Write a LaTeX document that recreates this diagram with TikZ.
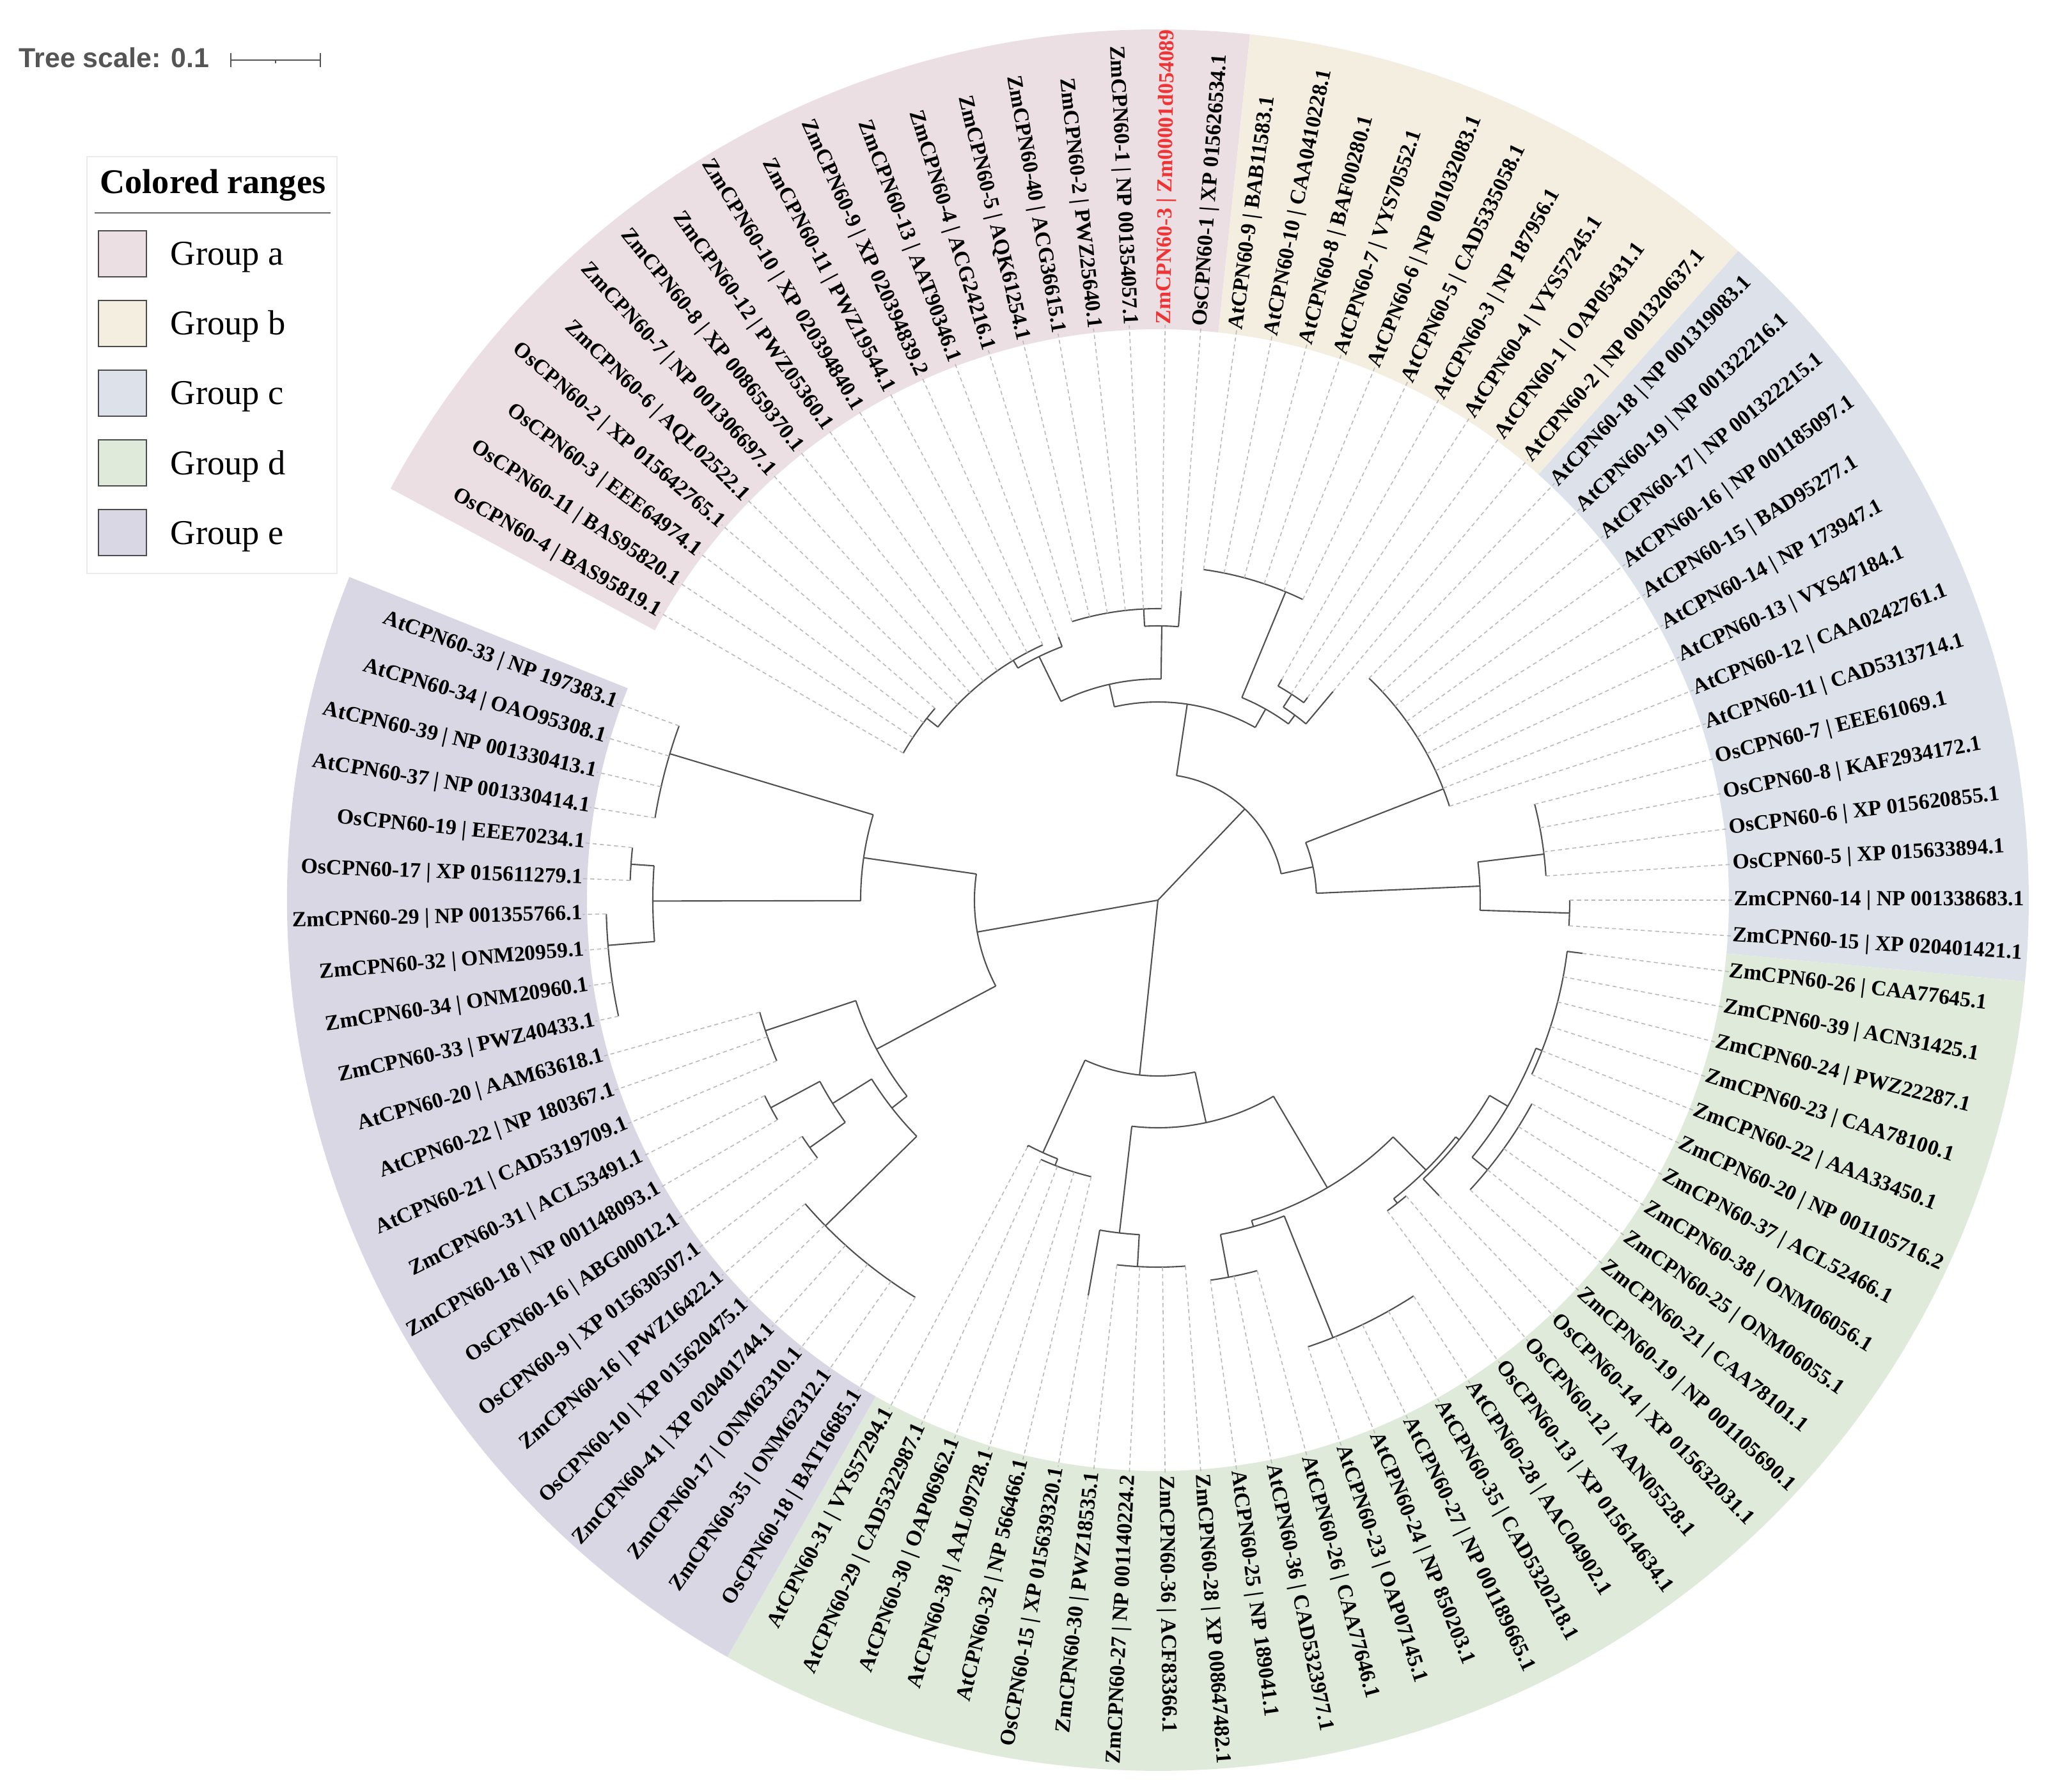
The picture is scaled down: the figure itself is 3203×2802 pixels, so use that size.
\documentclass[tikz,border=0pt]{standalone}
\usepackage{fontspec}
\setmainfont{Liberation Serif}
\newfontfamily\scalefnt{Liberation Sans}

\definecolor{grpa}{RGB}{235,223,228}
\definecolor{grpb}{RGB}{244,238,224}
\definecolor{grpc}{RGB}{221,226,234}
\definecolor{grpd}{RGB}{223,234,219}
\definecolor{grpe}{RGB}{218,215,228}
\definecolor{branchgray}{RGB}{80,80,80}
\definecolor{scalegray}{RGB}{85,85,85}
\definecolor{labred}{RGB}{238,52,52}

\tikzset{
  branch/.style={draw=branchgray, line width=0.6pt},
  leafdash/.style={draw=black!28, line width=0.45pt, dash pattern=on 1.8pt off 1.4pt},
  leaflab/.style={font=\bfseries\fontsize{9.6}{10}\selectfont, inner sep=0pt, text height=6.6pt, text depth=2pt},
  swatch/.style={draw=black!70, line width=0.5pt},
}

% colored range between two angles
\newcommand{\grprange}[3]{%
  \fill[#1] (#2:893) arc[start angle=#2, end angle=#3, radius=893]
    -- (#3:1362) arc[start angle=#3, end angle=#2, radius=1362] -- cycle;}

\begin{document}
\begin{tikzpicture}[x=0.01cm, y=0.01cm]
  \useasboundingbox (-1811,-1394) rectangle (1392,1408);

  \grprange{grpa}{151.79}{83.93}
  \grprange{grpb}{83.93}{48.21}
  \grprange{grpc}{48.21}{-5.36}
  \grprange{grpd}{-5.36}{-119.64}
  \grprange{grpe}{-119.64}{-201.79}

  % internal nodes: radius / from / to
  \foreach \r/\a/\b in {287/171.8/207.9, 465/163.3/180.1, 797/160/170.71, 790/176.1/184.7,
      826/174.29/177.86, 863/181.43/192.14, 498/198.4/218, 647/195.71/202.86,
      528/212/224.4, 600/208.2/215.4, 687/206.43/210, 668/213.57/217.14, 728/220.71/238.57,
      275/245.5/282.2, 434/242.14/248.8, 445/245.71/256.43, 356/263.4/300.5,
      524/260/266.8, 574/263.57/274.29, 522/286.3/314.8, 532/280.6/291.8,
      600/277.86/285, 737/288.57/302.86, 595/308.3/321.5, 604/306.43/310,
      602/313.57/329.5, 635/320.7/338.6, 666/317.14/331.43, 645/335/352.86,
      197/12.1/81.5, 310/60.6/102.7, 343/53.5/67.5, 522/64.29/82.14, 360/50/57,
      384/53.57/60.71, 346/89.2/116, 429/85.71/92.8, 456/89.29/107.14,
      424/110.7/121.1, 438/114.29/141.8, 460/139.29/150,
      248/2.5/21.3, 479/17.86/46.43, 504/-1.8/6.8, 608/3.57/14.29, 644/-3.57/0}
    \draw[branch] (\a:\r) arc[start angle=\a, end angle=\b, radius=\r];

  % stems: angle / inner / outer
  \foreach \t/\ra/\rb in {190/0/287, 264/0/275, 46.4/0/197,
      171.8/287/465, 207.9/287/498, 163.3/465/797, 180.1/465/790,
      176.1/790/826, 184.7/790/863, 198.4/498/647, 218/498/528,
      212/528/600, 224.4/528/728, 208.2/600/687, 215.4/600/668,
      245.5/275/434, 282.2/275/356, 248.8/434/445, 242.14/434/437,
      263.4/356/524, 300.5/356/522, 260/524/628, 266.8/524/574,
      286.3/522/532, 314.8/522/595, 280.6/532/600, 291.8/532/737,
      308.3/595/604, 321.5/595/602, 313.57/602/638, 329.5/602/635,
      320.7/635/666, 338.6/635/645, 352.86/645/669,
      81.5/197/310, 12.1/197/248, 102.7/310/346, 60.6/310/343,
      67.5/343/522, 53.5/343/360, 50/360/426, 57/360/384,
      60.71/384/396, 53.57/384/394,
      89.2/346/429, 116/346/424, 85.71/429/485, 92.8/429/456,
      110.71/424/440, 121.1/424/438, 141.8/438/460,
      21.3/248/479, 2.5/248/504, 6.8/504/608, -1.8/504/644}
    \draw[branch] (\t:\ra) -- (\t:\rb);

  % leaves: index / tip radius / label
  \foreach \k/\tip/\lab in {
      0/460/OsCPN60-4 | BAS95819.1, 1/460/OsCPN60-11 | BAS95820.1,
      2/460/OsCPN60-3 | EEE64974.1, 3/460/OsCPN60-2 | XP 015642765.1,
      4/438/ZmCPN60-6 | AQL02522.1, 5/438/ZmCPN60-7 | NP 001306697.1,
      6/438/ZmCPN60-8 | XP 008659370.1, 7/438/ZmCPN60-12 | PWZ05360.1,
      8/438/ZmCPN60-10 | XP 020394840.1, 9/438/ZmCPN60-11 | PWZ19544.1,
      10/438/ZmCPN60-9 | XP 020394839.2, 11/440/ZmCPN60-13 | AAT90346.1,
      12/456/ZmCPN60-4 | ACG24216.1, 13/456/ZmCPN60-5 | AQK61254.1,
      14/456/ZmCPN60-40 | ACG36615.1, 15/456/ZmCPN60-2 | PWZ25640.1,
      16/456/ZmCPN60-1 | NP 001354057.1,
      17/456/{\color{labred}ZmCPN60-3 | Zm00001d054089},
      18/485/OsCPN60-1 | XP 015626534.1,
      19/522/AtCPN60-9 | BAB11583.1, 20/522/AtCPN60-10 | CAA0410228.1,
      21/522/AtCPN60-8 | BAF00280.1, 22/522/AtCPN60-7 | VYS70552.1,
      23/522/AtCPN60-6 | NP 001032083.1, 24/522/AtCPN60-5 | CAD5335058.1,
      25/396/AtCPN60-3 | NP 187956.1, 26/384/AtCPN60-4 | VYS57245.1,
      27/394/AtCPN60-1 | OAP05431.1, 28/426/AtCPN60-2 | NP 001320637.1,
      29/479/AtCPN60-18 | NP 001319083.1, 30/479/AtCPN60-19 | NP 001322216.1,
      31/479/AtCPN60-17 | NP 001322215.1, 32/479/AtCPN60-16 | NP 001185097.1,
      33/479/AtCPN60-15 | BAD95277.1, 34/479/AtCPN60-14 | NP 173947.1,
      35/479/AtCPN60-13 | VYS47184.1, 36/479/AtCPN60-12 | CAA0242761.1,
      37/479/AtCPN60-11 | CAD5313714.1, 38/608/OsCPN60-7 | EEE61069.1,
      39/608/OsCPN60-8 | KAF2934172.1, 40/608/OsCPN60-6 | XP 015620855.1,
      41/608/OsCPN60-5 | XP 015633894.1, 42/644/ZmCPN60-14 | NP 001338683.1,
      43/644/ZmCPN60-15 | XP 020401421.1, 44/669/ZmCPN60-26 | CAA77645.1,
      45/645/ZmCPN60-39 | ACN31425.1, 46/645/ZmCPN60-24 | PWZ22287.1,
      47/645/ZmCPN60-23 | CAA78100.1, 48/645/ZmCPN60-22 | AAA33450.1,
      49/645/ZmCPN60-20 | NP 001105716.2, 50/666/ZmCPN60-37 | ACL52466.1,
      51/666/ZmCPN60-38 | ONM06056.1, 52/666/ZmCPN60-25 | ONM06055.1,
      53/666/ZmCPN60-21 | CAA78101.1, 54/666/ZmCPN60-19 | NP 001105690.1,
      55/638/OsCPN60-14 | XP 015632031.1, 56/604/OsCPN60-12 | AAN05528.1,
      57/604/OsCPN60-13 | XP 015614634.1, 58/737/AtCPN60-28 | AAC04902.1,
      59/737/AtCPN60-35 | CAD5320218.1, 60/737/AtCPN60-27 | NP 001189665.1,
      61/737/AtCPN60-24 | NP 850203.1, 62/737/AtCPN60-23 | OAP07145.1,
      63/600/AtCPN60-26 | CAA77646.1, 64/600/AtCPN60-36 | CAD5323977.1,
      65/600/AtCPN60-25 | NP 189041.1, 66/574/ZmCPN60-28 | XP 008647482.1,
      67/574/ZmCPN60-36 | ACF83366.1, 68/574/ZmCPN60-27 | NP 001140224.2,
      69/574/ZmCPN60-30 | PWZ18535.1, 70/628/OsCPN60-15 | XP 015639320.1,
      71/445/AtCPN60-32 | NP 566466.1, 72/445/AtCPN60-38 | AAL09728.1,
      73/445/AtCPN60-30 | OAP06962.1, 74/445/AtCPN60-29 | CAD5322987.1,
      75/437/AtCPN60-31 | VYS57294.1, 76/728/OsCPN60-18 | BAT16685.1,
      77/728/ZmCPN60-35 | ONM62312.1, 78/728/ZmCPN60-17 | ONM62310.1,
      79/728/ZmCPN60-41 | XP 020401744.1, 80/728/OsCPN60-10 | XP 015620475.1,
      81/728/ZmCPN60-16 | PWZ16422.1, 82/668/OsCPN60-9 | XP 015630507.1,
      83/668/OsCPN60-16 | ABG00012.1, 84/687/ZmCPN60-18 | NP 001148093.1,
      85/687/ZmCPN60-31 | ACL53491.1, 86/647/AtCPN60-21 | CAD5319709.1,
      87/647/AtCPN60-22 | NP 180367.1, 88/647/AtCPN60-20 | AAM63618.1,
      89/863/ZmCPN60-33 | PWZ40433.1, 90/863/ZmCPN60-34 | ONM20960.1,
      91/863/ZmCPN60-32 | ONM20959.1, 92/863/ZmCPN60-29 | NP 001355766.1,
      93/826/OsCPN60-17 | XP 015611279.1, 94/826/OsCPN60-19 | EEE70234.1,
      95/797/AtCPN60-37 | NP 001330414.1, 96/797/AtCPN60-39 | NP 001330413.1,
      97/797/AtCPN60-34 | OAO95308.1, 98/797/AtCPN60-33 | NP 197383.1} {
    \pgfmathsetmacro\ang{150-\k*3.5714286}
    \pgfmathtruncatemacro\isleft{(\ang>90)||(\ang<-90)}
    \draw[leafdash] (\ang:\tip) -- (\ang:900);
    \ifnum\isleft=1
      \node[leaflab, anchor=east, rotate=\ang+180] (leaf\k) at (\ang:900) {\lab};
    \else
      \node[leaflab, anchor=west, rotate=\ang] (leaf\k) at (\ang:900) {\lab};
    \fi
  }

  % scale bar and legend, in page pixels
  \begin{scope}[shift={(-1811,1408)}, yscale=-1]
    \node[anchor=base west, inner sep=0pt, text=scalegray,
      font=\scalefnt\bfseries\fontsize{12.2}{14}\selectfont] (scaletxt) at (29,106) {Tree scale: 0.1};
    \draw[scalegray, line width=0.7pt] (361,94) -- (501,94);
    \draw[scalegray, line width=0.7pt] (361,83) -- (361,105);
    \draw[scalegray, line width=0.7pt] (501,83) -- (501,105);
    \draw[scalegray, line width=0.5pt] (431,94) -- (431,99);

    \draw[black!8, line width=0.4pt] (136,245) rectangle (527,897);
    \node[anchor=base, inner sep=0pt, font=\bfseries\fontsize{15.4}{18}\selectfont]
      (legtitle) at (333,303) {Colored ranges};
    \draw[black!60, line width=0.5pt] (148,333) -- (517,333);
    \foreach \g/\c [count=\i from 0] in {a/grpa, b/grpb, c/grpc, d/grpd, e/grpe} {
      \filldraw[swatch, fill=\c] (154,361+109*\i) rectangle (229,433+109*\i);
      \node[anchor=base west, inner sep=0pt, font=\fontsize{15.5}{18}\selectfont]
        (leg\g) at (266,415+109*\i) {Group \g};
    }
  \end{scope}
\end{tikzpicture}
\end{document}
